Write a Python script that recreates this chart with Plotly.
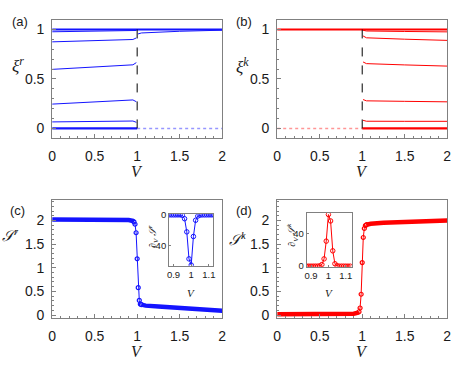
import plotly.graph_objects as go

# ---------------- data ----------------
V_JUMP = 1.0  # position of the dashed transition line

# (a) xi^r : thin branches before the transition
V_PRE = [0.0, 0.5, 0.95, 0.99]
XI_R_PRE = [
    [0.977, 0.982, 0.987, 0.990],
    [0.875, 0.888, 0.899, 0.915],
    [0.597, 0.622, 0.643, 0.665],
    [0.246, 0.268, 0.288, 0.270],
    [0.066, 0.071, 0.075, 0.062],
]
# thin branches after the transition
V_POST = [1.01, 1.05, 1.5, 2.0]
XI_R_POST = [
    [0.955, 0.965, 0.982, 0.993],
]
# (b) xi^k
XI_K_POST = [
    [0.992, 0.985, 0.980, 0.976],
    [0.935, 0.916, 0.902, 0.890],
    [0.672, 0.655, 0.642, 0.630],
    [0.292, 0.279, 0.274, 0.269],
    [0.082, 0.073, 0.072, 0.072],
]
XI_TOP = 1.0
XI_BOTTOM = 0.0
V_MIN, V_MAX = 0.0, 2.0

# (c) S^r
SR_PRE_V = [0.0, 0.25, 0.5, 0.75, 0.9, 0.95, 0.9625]
SR_PRE = [2.02, 2.02, 2.02, 2.02, 2.01, 1.99, 1.97]
SR_JUMP_V = [0.975, 0.9875, 1.0, 1.0125, 1.025, 1.0375]
SR_JUMP = [1.92, 1.74, 1.19, 0.58, 0.31, 0.23]
SR_POST_V = [1.05, 1.1, 1.25, 1.5, 1.75, 2.0]
SR_POST = [0.22, 0.20, 0.18, 0.15, 0.12, 0.09]

# (d) S^k
SK_PRE_V = [0.0, 0.25, 0.5, 0.75, 0.9, 0.95, 0.9625]
SK_PRE = [0.02, 0.02, 0.02, 0.02, 0.03, 0.05, 0.07]
SK_JUMP_V = [0.975, 0.9875, 1.0, 1.0125, 1.025, 1.0375]
SK_JUMP = [0.15, 0.44, 1.11, 1.64, 1.83, 1.89]
SK_POST_V = [1.05, 1.1, 1.25, 1.5, 1.75, 2.0]
SK_POST = [1.91, 1.93, 1.95, 1.97, 1.99, 2.00]

# insets: derivatives
V_INSET = [0.875, 0.8875, 0.9, 0.9125, 0.925, 0.9375, 0.95, 0.9625, 0.975, 0.9875,
           1.0, 1.0125, 1.025, 1.0375, 1.05, 1.0625, 1.075, 1.0875, 1.1, 1.1125, 1.125]
DSR = [0, 0, 0, 0, 0, 0, -0.5, -5, -22, -57, -65, -28, -7, -1.5, -0.3, 0, 0, 0, 0, 0, 0]
DSK = [0, 0, 0, 0, 0, 0, 0.3, 2, 9, 31, 64, 56, 19, 3, 0.5, 0, 0, 0, 0, 0, 0]
DSR_TICKS = [-40, 0]
DSR_TICKTEXT = ["-40", "0"]
DSK_TICKS = [0, 40]

BLUE = "rgb(20,20,255)"
LBLUE = "rgb(150,150,255)"
RED = "rgb(255,0,0)"
LRED = "rgb(255,150,150)"
AXC = "#808080"
TXT = "#1a1a1a"
SANS = "Liberation Sans, Arial, sans-serif"
SERIF = "Liberation Serif, Times New Roman, serif"

W, H = 463, 374
def px(x0, x1):
    return [x0 / W, x1 / W]
def py(y0, y1):
    return [1 - y1 / H, 1 - y0 / H]

fig = go.Figure()

def line(x, y, xa, ya, color, width, dash="solid"):
    fig.add_trace(go.Scatter(x=x, y=y, xaxis=xa, yaxis=ya, mode="lines",
                             line=dict(color=color, width=width, dash=dash),
                             showlegend=False, hoverinfo="skip"))

# ---- (a) ----
for ys in XI_R_PRE:
    line(V_PRE, ys, "x", "y", BLUE, 1)
for ys in XI_R_POST:
    line(V_POST, ys, "x", "y", BLUE, 1)
line([V_MIN, V_MAX], [XI_TOP, XI_TOP], "x", "y", BLUE, 2.2)
line([V_MIN, V_JUMP], [XI_BOTTOM, XI_BOTTOM], "x", "y", BLUE, 2.2)
line([V_JUMP, V_MAX], [XI_BOTTOM, XI_BOTTOM], "x", "y", LBLUE, 1.5, "dot")
line([V_JUMP, V_JUMP], [XI_BOTTOM, XI_TOP], "x", "y", "black", 1, "dash")

# ---- (b) ----
for ys in XI_K_POST:
    line(V_POST, ys, "x2", "y2", RED, 1)
line([V_MIN, V_MAX], [XI_TOP, XI_TOP], "x2", "y2", RED, 2.2)
line([V_JUMP, V_MAX], [XI_BOTTOM, XI_BOTTOM], "x2", "y2", RED, 2.2)
line([V_MIN, V_JUMP], [XI_BOTTOM, XI_BOTTOM], "x2", "y2", LRED, 1.5, "dot")
line([V_JUMP, V_JUMP], [XI_BOTTOM, XI_TOP], "x2", "y2", "black", 1, "dash")

# ---- (c) / (d) entropy curves ----
def entropy(pre_v, pre, jv, j, post_v, post, xa, ya, color):
    # dense marker band on the flat parts
    fig.add_trace(go.Scatter(x=pre_v + [None] + post_v, y=pre + [None] + post,
                             xaxis=xa, yaxis=ya, mode="lines",
                             line=dict(color=color, width=4.5),
                             showlegend=False, hoverinfo="skip"))
    fig.add_trace(go.Scatter(x=[pre_v[-1]] + jv + [post_v[0]], y=[pre[-1]] + j + [post[0]],
                             xaxis=xa, yaxis=ya, mode="lines+markers",
                             line=dict(color=color, width=1),
                             marker=dict(symbol="circle-open", size=4, color=color,
                                         line=dict(width=1.2, color=color)),
                             showlegend=False, hoverinfo="skip"))

entropy(SR_PRE_V, SR_PRE, SR_JUMP_V, SR_JUMP, SR_POST_V, SR_POST, "x3", "y3", BLUE)
entropy(SK_PRE_V, SK_PRE, SK_JUMP_V, SK_JUMP, SK_POST_V, SK_POST, "x4", "y4", RED)

# insets
for ys, xa, ya, c in [(DSR, "x5", "y5", BLUE), (DSK, "x6", "y6", RED)]:
    fig.add_trace(go.Scatter(x=V_INSET, y=ys, xaxis=xa, yaxis=ya, mode="lines+markers",
                             line=dict(color=c, width=1),
                             marker=dict(symbol="circle-open", size=4.5, color=c,
                                         line=dict(width=1, color=c)),
                             showlegend=False, hoverinfo="skip"))

def axis(domain, rng, tickvals, minor, anchor, size=14, ticklen=4, standoff=None, ticktext=None):
    d = dict(domain=domain, range=rng, tickvals=tickvals, ticks="inside",
             ticklen=ticklen, tickcolor=AXC, showline=True, linecolor=AXC,
             linewidth=1, mirror=True, showgrid=False, zeroline=False,
             tickfont=dict(family=SANS, size=size, color=TXT), anchor=anchor,
             fixedrange=True)
    if ticktext:
        d["ticktext"] = ticktext
    if minor:
        d["minor"] = dict(ticks="inside", ticklen=2, dtick=minor, tickcolor=AXC,
                          showgrid=False)
    if standoff is not None:
        d["ticklabelstandoff"] = standoff
    return d

VT = [0, 0.5, 1, 1.5, 2]
XA = px(49, 222)
XB = px(278, 451)
YT = py(15, 137)
YB = py(200, 322)
IT = [0.9, 1, 1.1]

fig.update_layout(
    xaxis=axis(XA, [0, 2], VT, 0.1, "y", standoff=5),
    yaxis=axis(YT, [-0.1, 1.1], [0, 0.5, 1], 0.1, "x", standoff=4),
    xaxis2=axis(XB, [0, 2], VT, 0.1, "y2", standoff=5),
    yaxis2=axis(YT, [-0.1, 1.1], [0, 0.5, 1], 0.1, "x2", standoff=4),
    xaxis3=axis(XA, [0, 2], VT, 0.1, "y3", standoff=5),
    yaxis3=axis(YB, [-0.07, 2.44], VT, 0.1, "x3", standoff=4),
    xaxis4=axis(XB, [0, 2], VT, 0.1, "y4", standoff=5),
    yaxis4=axis(YB, [-0.07, 2.44], VT, 0.1, "x4", standoff=4),
    xaxis5=axis(px(168, 213), [0.875, 1.125], IT, None, "y5", size=9.5, ticklen=2),
    yaxis5=axis(py(215, 268), [-66, 0.8], DSR_TICKS, None, "x5", size=9.5, ticklen=2,
                ticktext=DSR_TICKTEXT),
    xaxis6=axis(px(308, 354), [0.875, 1.135], IT, None, "y6", size=9.5, ticklen=2),
    yaxis6=axis(py(214, 269), [-0.8, 65.5], DSK_TICKS, None, "x6", size=9.5, ticklen=2),
    width=W, height=H, margin=dict(l=0, r=0, t=0, b=0),
    paper_bgcolor="white", plot_bgcolor="white", showlegend=False,
)

def text(x, y, s, size, family=SERIF, angle=0):
    fig.add_annotation(x=x / W, y=1 - y / H, xref="paper", yref="paper", text=s,
                       showarrow=False, font=dict(family=family, size=size, color=TXT),
                       textangle=angle, xanchor="center", yanchor="middle")

# panel labels
text(16, 17, "(a)", 13, SANS)
text(244, 17, "(b)", 13, SANS)
text(14, 211, "(c)", 13, SANS)
text(244, 211, "(d)", 13, SANS)
# axis titles
for xc in (135, 364):
    text(xc, 171, "<i>V</i>", 16)
    text(xc, 356, "<i>V</i>", 16)
text(14, 62, "<i>ξ<sup>r</sup></i>", 17)
text(243, 63, "<i>ξ<sup>k</sup></i>", 17)
text(7, 236, "<i>𝒮<sup>r</sup></i>", 15)
text(238, 240, "<i>𝒮<sup>k</sup></i>", 15)
# inset titles
text(190, 296, "<i>V</i>", 11)
text(331, 296, "<i>V</i>", 11)
text(151, 238, "<i>∂<sub>V</sub> 𝒮<sup>r</sup></i>", 10, angle=-90)
text(293, 236, "<i>∂<sub>V</sub> 𝒮<sup>k</sup></i>", 10, angle=-90)

fig.write_html("out.html", config={"displayModeBar": False},
               post_script="document.body.style.margin='0';")
